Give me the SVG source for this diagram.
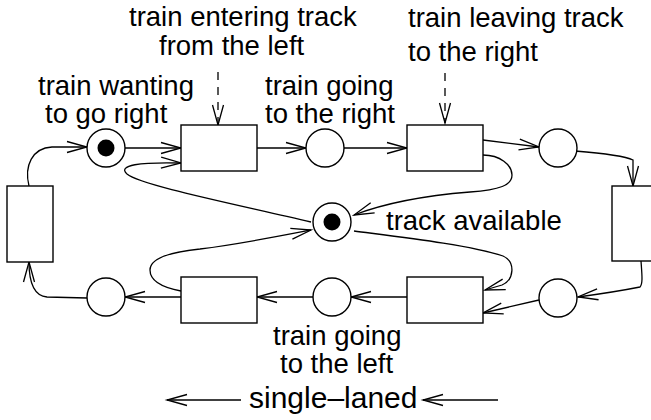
<svg xmlns="http://www.w3.org/2000/svg" width="651" height="420" viewBox="0 0 651 420">
<defs>
<marker id="ah" markerUnits="userSpaceOnUse" markerWidth="24" markerHeight="14" refX="20" refY="6" orient="auto" overflow="visible">
<path d="M0,0.5 L20,6 L0,11.5" fill="none" stroke="#000" stroke-width="1.3"/>
</marker>
</defs>
<style>
.n{fill:#fff;stroke:#000;stroke-width:1.4}
.tok{fill:#000;stroke:none}
.e{fill:none;stroke:#000;stroke-width:1.3;marker-end:url(#ah)}
.d{stroke-dasharray:8 7}
text{font-family:"Liberation Sans",Arial,Helvetica,sans-serif;font-size:27.5px;fill:#000}
.big{font-size:30px}
</style>
<rect width="651" height="420" fill="#fff"/>
<g id="connectors">
<path class="e" d="M125,148 L181,148"/>
<path class="e" d="M257,148 L306,148"/>
<path class="e" d="M344,148 L407,148"/>
<path class="e" d="M483,140 L539,147"/>
<path class="e" d="M575,151 C600,153 625,156 633,160 L633,186"/>
<path class="e" d="M641,261 C642,275 643,284 640,287 C620,291 600,294 578,297"/>
<path class="e" d="M539,300 L483,313"/>
<path class="e" d="M407,297 L351,297"/>
<path class="e" d="M313,297 L257,297"/>
<path class="e" d="M181,297 L125,297"/>
<path class="e" d="M87,298 L47,297 C35,296 29,285 29,262"/>
<path class="e" d="M29,186 C24,166 32,148 52,147 L87,147"/>
<path class="e" d="M311,222 C230,203 140,185 127,174 C117,165 140,162 181,163"/>
<path class="e" d="M181,291 C165,288 150,282 150,270 C150,258 170,252 200,249 C240,244 280,236 311,230"/>
<path class="e" d="M483,155 C500,155 512,165 512,175 C512,185 500,190 470,192 C420,196 380,205 354,215"/>
<path class="e" d="M354,231 C400,237 470,245 503,256 C516,262 514,280 502,285 L485,290"/>
<path class="e d" d="M218,72 L218,125"/>
<path class="e d" d="M445,73 L445,123"/>
<path class="e" d="M241,400 L167,400"/>
<path class="e" d="M498,400 L423,400"/>
</g>
<g id="p1"><circle class="n" cx="106" cy="148" r="19"/><circle class="tok" cx="106" cy="148" r="8.5"/></g>
<g id="t1"><rect class="n" x="181" y="125" width="76" height="46"/></g>
<g id="p2"><circle class="n" cx="325" cy="148" r="19"/></g>
<g id="t2"><rect class="n" x="407" y="125" width="76" height="46"/></g>
<g id="p3"><circle class="n" cx="558" cy="148" r="19"/></g>
<g id="t3"><rect class="n" x="612" y="186" width="46" height="75"/></g>
<g id="p4"><circle class="n" cx="558" cy="298" r="19"/></g>
<g id="t4"><rect class="n" x="407" y="277" width="76" height="46"/></g>
<g id="p5"><circle class="n" cx="332" cy="297" r="19"/></g>
<g id="t5"><rect class="n" x="181" y="277" width="76" height="46"/></g>
<g id="p6"><circle class="n" cx="106" cy="297" r="19"/></g>
<g id="t6"><rect class="n" x="7" y="186" width="46" height="76"/></g>
<g id="p7"><circle class="n" cx="332" cy="222" r="19"/><circle class="tok" cx="332" cy="222" r="8.5"/></g>
<g id="labels">
<text x="129" y="26">train entering track</text>
<text x="159" y="55">from the left</text>
<text x="408" y="27">train leaving track</text>
<text x="408" y="61">to the right</text>
<text x="38" y="95">train wanting</text>
<text x="45" y="123">to go right</text>
<text x="265" y="95">train going</text>
<text x="265" y="123">to the right</text>
<text x="386" y="230">track available</text>
<text x="273" y="345">train going</text>
<text x="280" y="373">to the left</text>
<text class="big" x="249" y="408">single–laned</text>
</g>
</svg>
